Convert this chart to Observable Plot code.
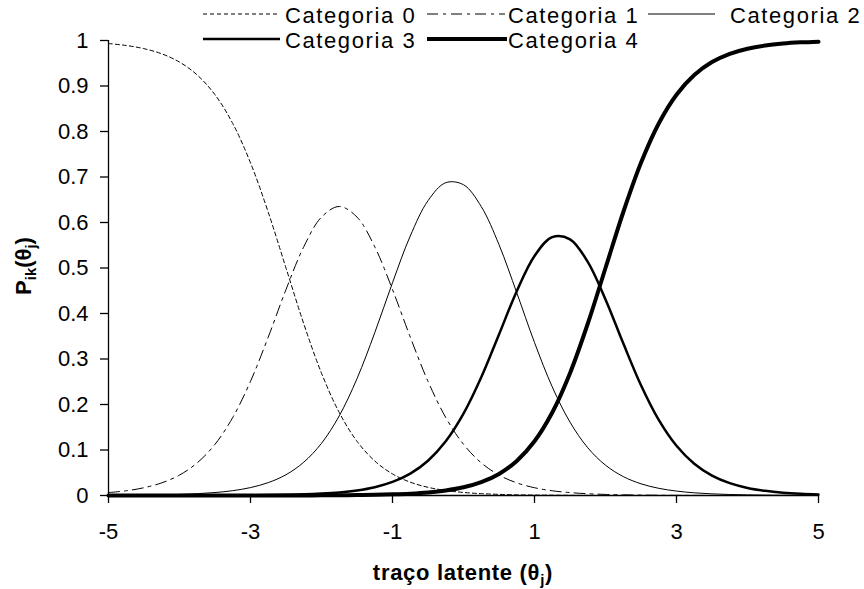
<!DOCTYPE html>
<html>
<head>
<meta charset="utf-8">
<script src="https://cdn.jsdelivr.net/npm/d3@7"></script>
<script src="https://cdn.jsdelivr.net/npm/@observablehq/plot@0.6"></script>
<style>
  body { margin: 0; background: #fff; }
  #chart { position: relative; width: 864px; height: 589px; background: #fff; }
  #overlay { position: absolute; left: 0; top: 0; pointer-events: none; }
</style>
</head>
<body>
<div id="chart"></div>
<script>
// ---- data ----
const categories = ["Categoria 0", "Categoria 1", "Categoria 2", "Categoria 3", "Categoria 4"];

const theta = [-5, -4.75, -4.5, -4.25, -4, -3.75, -3.5, -3.25, -3, -2.75, -2.5, -2.25, -2, -1.75, -1.5, -1.25, -1, -0.75, -0.5, -0.25,
  0, 0.25, 0.5, 0.75, 1, 1.25, 1.5, 1.75, 2, 2.25, 2.5, 2.75, 3, 3.25, 3.5, 3.75, 4, 4.25, 4.5, 4.75, 5];

const p0 = [0.9933, 0.989, 0.982, 0.9707, 0.9526, 0.9241, 0.8808, 0.8176, 0.7311, 0.6225, 0.5, 0.3775, 0.2689, 0.1824, 0.1192, 0.0759, 0.0474, 0.0293, 0.018, 0.011,
  0.0067, 0.0041, 0.0025, 0.0015, 0.0009, 0.0006, 0.0003, 0.0002, 0.0001, 0.0001, 0, 0, 0, 0, 0, 0, 0, 0, 0, 0, 0];
const p1 = [0.0064, 0.0104, 0.0171, 0.0278, 0.0449, 0.0718, 0.1125, 0.1714, 0.2509, 0.3482, 0.4526, 0.5466, 0.6119, 0.6352, 0.6119, 0.5466, 0.4526, 0.3482, 0.2509, 0.1714,
  0.1125, 0.0718, 0.0449, 0.0278, 0.0171, 0.0104, 0.0064, 0.0039, 0.0024, 0.0015, 0.0009, 0.0005, 0.0003, 0.0002, 0.0001, 0, 0, 0, 0, 0, 0];
const p2 = [0.0003, 0.0006, 0.0009, 0.0015, 0.0024, 0.004, 0.0065, 0.0106, 0.0174, 0.0283, 0.0457, 0.0732, 0.1147, 0.175, 0.2568, 0.3577, 0.4677, 0.5703, 0.6479, 0.6875,
  0.683, 0.635, 0.5513, 0.4457, 0.3363, 0.2387, 0.1613, 0.105, 0.0666, 0.0416, 0.0257, 0.0158, 0.0097, 0.0059, 0.0036, 0.0022, 0.0014, 0.0008, 0.0005, 0.0003, 0.0002];
const p3 = [0, 0, 0, 0, 0.0001, 0.0001, 0.0002, 0.0004, 0.0006, 0.001, 0.0016, 0.0025, 0.0042, 0.0068, 0.0112, 0.0183, 0.0298, 0.0481, 0.0765, 0.1191,
  0.1798, 0.2598, 0.3539, 0.4491, 0.5265, 0.5679, 0.5631, 0.5134, 0.4309, 0.3344, 0.2423, 0.1661, 0.1092, 0.0698, 0.0437, 0.0271, 0.0166, 0.0102, 0.0062, 0.0038, 0.0023];
const p4 = [0, 0, 0, 0, 0, 0, 0, 0, 0, 0, 0.0001, 0.0002, 0.0003, 0.0006, 0.0009, 0.0015, 0.0025, 0.0041, 0.0067, 0.011,
  0.018, 0.0293, 0.0474, 0.0759, 0.1192, 0.1824, 0.2689, 0.3775, 0.5, 0.6225, 0.7311, 0.8176, 0.8808, 0.9241, 0.9526, 0.9707, 0.982, 0.989, 0.9933, 0.9959, 0.9975];

const xTicks = [-5, -3, -1, 1, 3, 5];
const xTickLabels = ["-5", "-3", "-1", "1", "3", "5"];
const yTicks = [0, 0.1, 0.2, 0.3, 0.4, 0.5, 0.6, 0.7, 0.8, 0.9, 1];
const yTickLabels = ["0", "0.1", "0.2", "0.3", "0.4", "0.5", "0.6", "0.7", "0.8", "0.9", "1"];

// ---- styles ----
const lineStyles = [
  {width: 1, dash: "4,3"},
  {width: 1, dash: "11,5,3,5"},
  {width: 1, dash: null},
  {width: 2.5, dash: null},
  {width: 4, dash: null}
];
const FONT = "'Liberation Sans', Arial, Helvetica, sans-serif";

// ---- build table ----
const series = [p0, p1, p2, p3, p4];
const rows = [];
series.forEach((vals, k) => vals.forEach((p, i) => rows.push({theta: theta[i], p, k, category: categories[k]})));

const plot = Plot.plot({
  width: 864,
  height: 589,
  marginLeft: 108,
  marginRight: 46,
  marginTop: 40,
  marginBottom: 94,
  style: {fontFamily: FONT, fontSize: "22px", color: "black", background: "white"},
  x: {domain: [-5, 5]},
  y: {domain: [0, 1]},
  marks: [
    ...categories.map((c, k) => Plot.line(rows.filter(r => r.k === k), {
      x: "theta", y: "p", stroke: "black",
      strokeWidth: lineStyles[k].width,
      strokeDasharray: lineStyles[k].dash,
      curve: "catmull-rom"
    })),
    Plot.ruleX([-5], {stroke: "black", strokeWidth: 1.3}),
    Plot.ruleY([0], {stroke: "black", strokeWidth: 1.3}),
    Plot.axisX(xTicks, {tickSize: 8, tickPadding: 20, label: null, strokeWidth: 1.3,
      tickFormat: d => xTickLabels[xTicks.indexOf(d)]}),
    Plot.axisY(yTicks, {tickSize: 8, tickPadding: 12, label: null, strokeWidth: 1.3,
      tickFormat: d => yTickLabels[yTicks.indexOf(d)]})
  ]
});
document.getElementById("chart").appendChild(plot);

// ---- overlay: legend and axis titles ----
const legendLayout = [
  {row: 0, x1: 203, x2: 277, tx: 285},
  {row: 0, x1: 427, x2: 505, tx: 508},
  {row: 0, x1: 648, x2: 715, tx: 730},
  {row: 1, x1: 203, x2: 280, tx: 285},
  {row: 1, x1: 427, x2: 507, tx: 508}
];
const rowLineY = [14, 39];
const rowTextY = [23, 48];

const svg = d3.select("#chart").append("svg")
  .attr("id", "overlay").attr("width", 864).attr("height", 589)
  .style("font-family", FONT);

categories.forEach((c, k) => {
  const L = legendLayout[k];
  svg.append("line")
    .attr("x1", L.x1).attr("x2", L.x2)
    .attr("y1", rowLineY[L.row]).attr("y2", rowLineY[L.row])
    .attr("stroke", "black")
    .attr("stroke-width", lineStyles[k].width)
    .attr("stroke-dasharray", lineStyles[k].dash);
  svg.append("text")
    .attr("x", L.tx).attr("y", rowTextY[L.row])
    .attr("font-size", 22).attr("letter-spacing", "1.6px")
    .attr("fill", "black")
    .text(c);
});

// x axis title
const xt = svg.append("text")
  .attr("x", 463).attr("y", 580)
  .attr("text-anchor", "middle")
  .attr("font-size", 22).attr("font-weight", "bold").attr("letter-spacing", "0.7px");
xt.append("tspan").text("traço latente (θ");
xt.append("tspan").attr("font-size", 15).attr("dy", 5).text("j");
xt.append("tspan").attr("dy", -5).text(")");

// y axis title
const yt = svg.append("text")
  .attr("transform", "translate(31,266) rotate(-90)")
  .attr("text-anchor", "middle")
  .attr("font-size", 22).attr("font-weight", "bold");
yt.append("tspan").text("P");
yt.append("tspan").attr("font-size", 15).attr("dy", 5).text("ik");
yt.append("tspan").attr("dy", -5).text("(θ");
yt.append("tspan").attr("font-size", 15).attr("dy", 5).text("j");
yt.append("tspan").attr("dy", -5).text(")");
</script>
</body>
</html>
